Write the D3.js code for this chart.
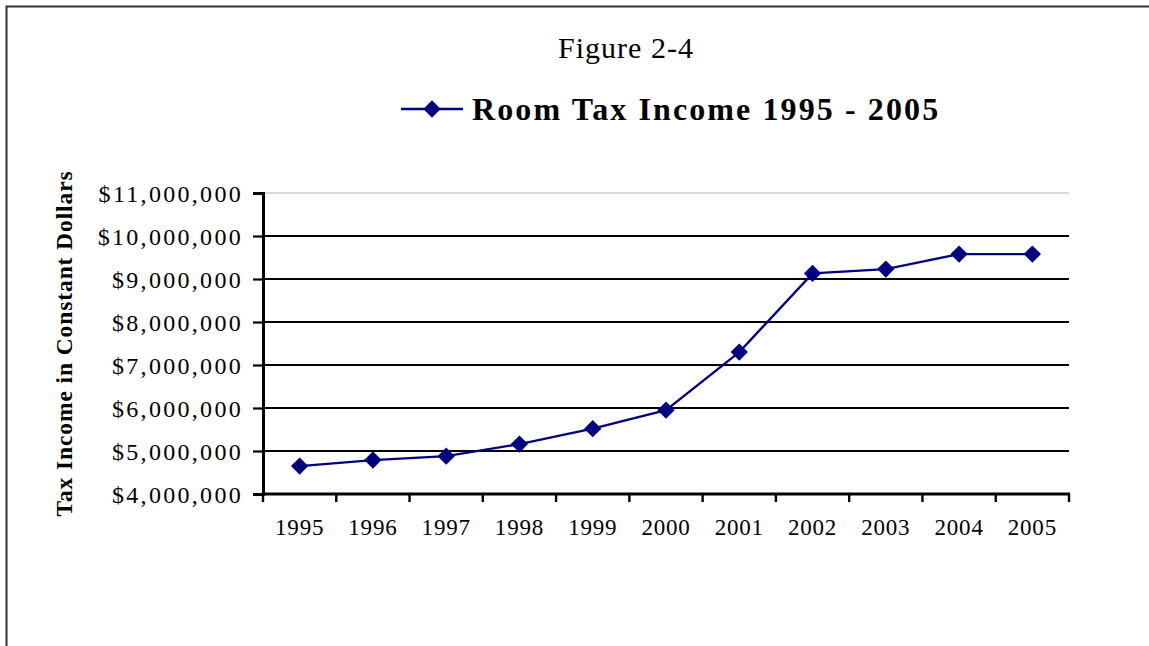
<!DOCTYPE html>
<html>
<head>
<meta charset="utf-8">
<script src="https://cdn.jsdelivr.net/npm/d3@7"></script>
<style>
  html, body { margin: 0; padding: 0; background: #fff; }
  svg { display: block; }
  text { font-family: "Liberation Serif", "Times New Roman", serif; fill: #000; }
</style>
</head>
<body>
<svg id="chart" width="1149" height="646"></svg>
<script>
// Room tax income, constant dollars
const years = ["1995", "1996", "1997", "1998", "1999", "2000", "2001", "2002", "2003", "2004", "2005"];
const income = [4650000, 4790000, 4880000, 5160000, 5520000, 5950000, 7300000, 9130000, 9230000, 9580000, 9580000];
const yTicks = [4000000, 5000000, 6000000, 7000000, 8000000, 9000000, 10000000, 11000000];

const figureLabel = "Figure 2-4";
const seriesName = "Room Tax Income 1995 - 2005";
const yTitle = "Tax Income in Constant Dollars";

const svg = d3.select("#chart");
const navy = "#000080";

const plot = { left: 263, right: 1069, top: 193, bottom: 494 };

const x = d3.scaleBand().domain(years).range([plot.left, plot.right]).padding(0);
const y = d3.scaleLinear().domain([4000000, 11000000]).range([plot.bottom, plot.top]);

// outer frame
svg.append("rect")
  .attr("x", 6.5).attr("y", 6.5)
  .attr("width", 1200).attr("height", 700)
  .attr("fill", "none").attr("stroke", "#333").attr("stroke-width", 2);

// header
svg.append("text")
  .attr("x", 626).attr("y", 58)
  .attr("text-anchor", "middle")
  .style("font-size", "30px")
  .style("letter-spacing", "1px")
  .text(figureLabel);

// legend
const legend = svg.append("g");
legend.append("line")
  .attr("x1", 401).attr("x2", 463).attr("y1", 109).attr("y2", 109)
  .attr("stroke", navy).attr("stroke-width", 2.5);
legend.append("path")
  .attr("d", d3.symbol(d3.symbolSquare, 150)())
  .attr("transform", "translate(432,109) rotate(45)")
  .attr("fill", navy);
legend.append("text")
  .attr("x", 472).attr("y", 120)
  .style("font-size", "32px")
  .style("font-weight", "bold")
  .style("letter-spacing", "2.1px")
  .text(seriesName);

// horizontal gridlines
const grid = svg.append("g");
grid.selectAll("line")
  .data(yTicks.filter(v => v > 4000000))
  .join("line")
  .attr("x1", plot.left).attr("x2", plot.right)
  .attr("y1", d => y(d)).attr("y2", d => y(d))
  .attr("stroke", d => d === 11000000 ? "#b8b8b8" : "#000")
  .attr("stroke-width", d => d === 11000000 ? 1.2 : 2.2);

// y axis
const yAxis = svg.append("g")
  .attr("transform", `translate(${plot.left},0)`)
  .call(d3.axisLeft(y).tickValues(yTicks).tickSize(10).tickPadding(10).tickFormat(d3.format("$,")));
yAxis.select(".domain").attr("stroke", "#000").attr("stroke-width", 3);
yAxis.selectAll(".tick line").attr("stroke", "#000").attr("stroke-width", 2.2);
yAxis.selectAll(".tick text")
  .style("font-family", '"Liberation Serif", "Times New Roman", serif')
  .style("font-size", "24px")
  .style("letter-spacing", "2.3px")
  .attr("dy", "0.34em");

// x axis: line along the bottom with ticks on category boundaries
const xAxis = svg.append("g");
xAxis.append("line")
  .attr("x1", plot.left - 1.5).attr("x2", plot.right + 1)
  .attr("y1", plot.bottom).attr("y2", plot.bottom)
  .attr("stroke", "#000").attr("stroke-width", 3);
const bounds = years.map(d => x(d)).concat([x.range()[1]]);
xAxis.selectAll("line.xt")
  .data(bounds)
  .join("line")
  .attr("class", "xt")
  .attr("x1", d => d).attr("x2", d => d)
  .attr("y1", plot.bottom).attr("y2", plot.bottom + 8)
  .attr("stroke", "#000").attr("stroke-width", 2.4);
xAxis.selectAll("text")
  .data(years)
  .join("text")
  .attr("x", d => x(d) + x.bandwidth() / 2)
  .attr("y", 535)
  .attr("text-anchor", "middle")
  .style("font-size", "23px")
  .style("letter-spacing", "0.8px")
  .text(d => d);

// y axis title
svg.append("text")
  .attr("transform", `translate(72,${(plot.top + plot.bottom) / 2}) rotate(-90)`)
  .attr("text-anchor", "middle")
  .style("font-size", "23.5px")
  .style("font-weight", "bold")
  .style("letter-spacing", "0.9px")
  .text(yTitle);

// series line and markers
const pts = years.map((d, i) => [x(d) + x.bandwidth() / 2, y(income[i])]);
svg.append("path")
  .attr("d", d3.line()(pts))
  .attr("fill", "none")
  .attr("stroke", navy)
  .attr("stroke-width", 2.3);
svg.append("g").selectAll("path")
  .data(pts)
  .join("path")
  .attr("d", d3.symbol(d3.symbolSquare, 150)())
  .attr("transform", d => `translate(${d[0]},${d[1]}) rotate(45)`)
  .attr("fill", navy);
</script>
</body>
</html>
